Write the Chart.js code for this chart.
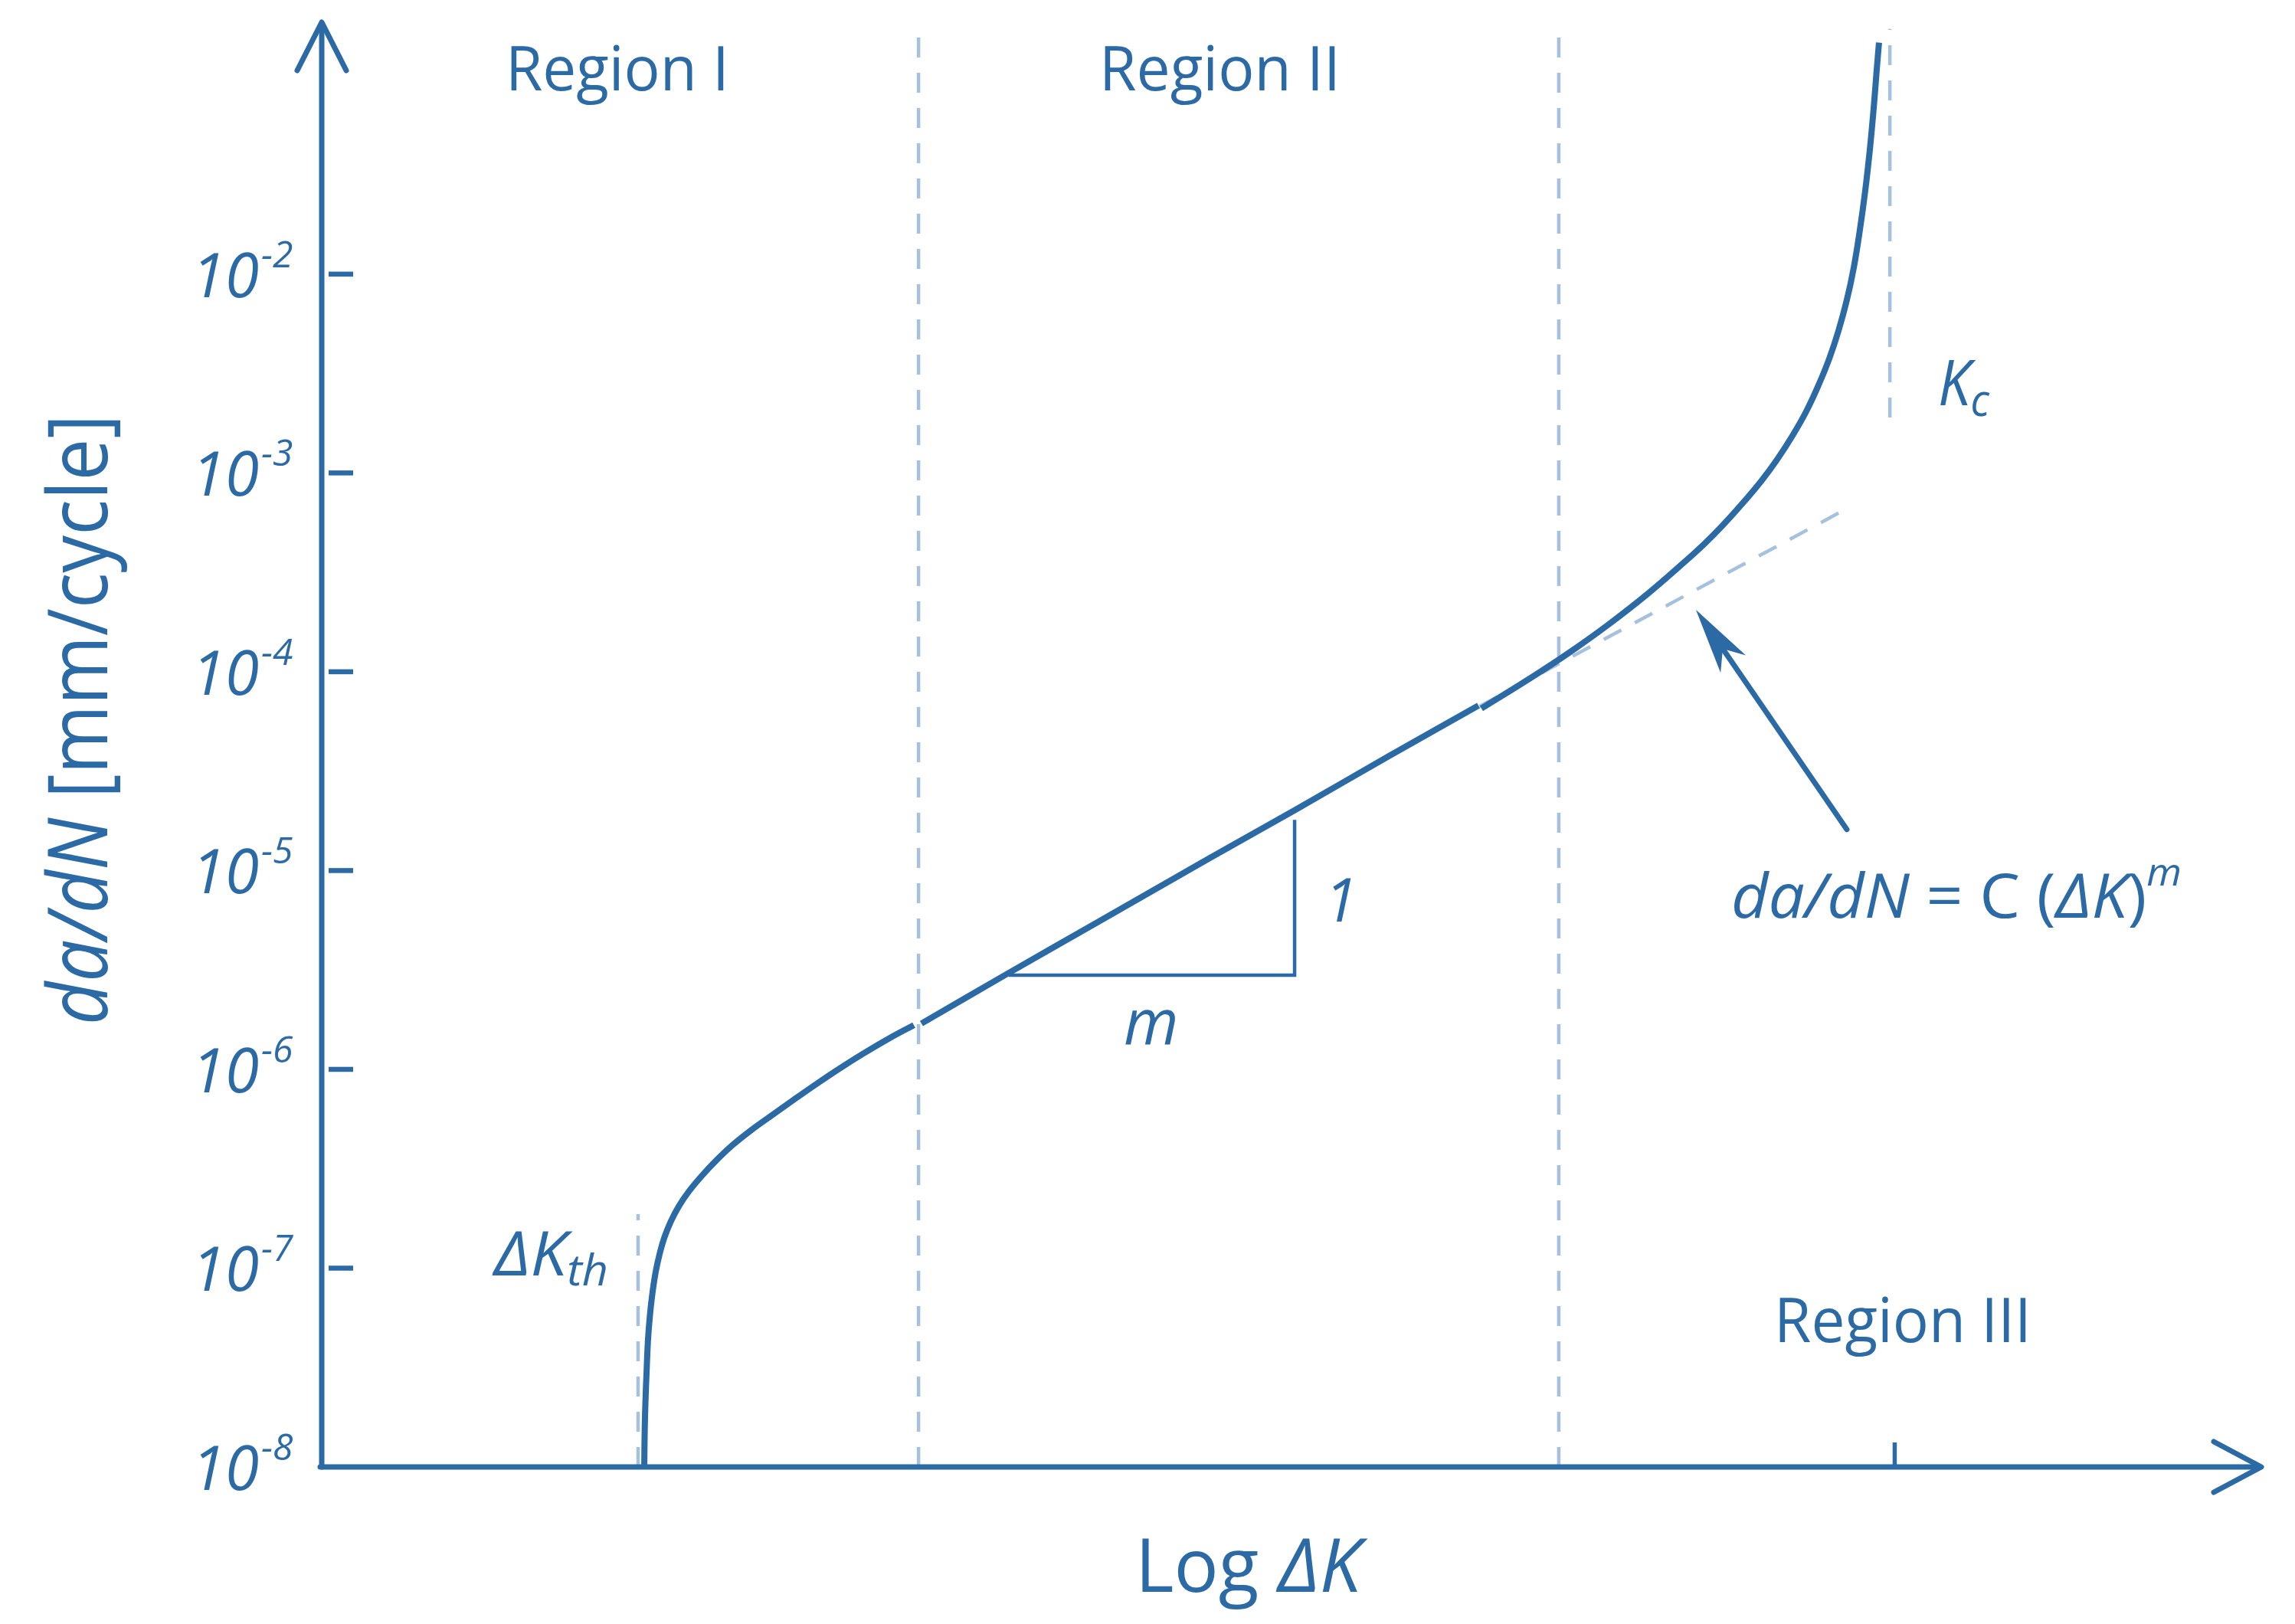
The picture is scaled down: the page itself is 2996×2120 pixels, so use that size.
<!DOCTYPE html>
<html>
<head>
<meta charset="utf-8">
<script src="https://cdn.jsdelivr.net/npm/chart.js@4.4.1/dist/chart.umd.min.js"></script>
<style>
  html, body { margin: 0; padding: 0; background: #ffffff; }
  #c { display: block; }
</style>
</head>
<body>
<canvas id="c" width="2996" height="2120" style="width:2996px;height:2120px"></canvas>
<script>
// ---------- data ----------
const xMin = 0, xMax = 100;            // Log ΔK, arbitrary units
const yMin = 1e-8, yMax = 0.185;       // da/dN [mm/cycle]

const regionIX  = [16.63, 16.65, 16.69, 16.75, 16.82, 16.91, 17.04, 17.22, 17.44, 17.67, 17.99, 18.40,
                   18.94, 19.59, 20.34, 21.17, 22.16, 23.26, 24.37, 25.51, 26.70, 27.92, 29.19, 30.53];
const regionIY  = [1.00e-8, 1.49e-8, 2.13e-8, 3.03e-8, 4.32e-8, 5.64e-8, 7.36e-8, 9.61e-8, 1.20e-7, 1.43e-7, 1.71e-7, 2.04e-7,
                   2.44e-7, 2.91e-7, 3.48e-7, 4.15e-7, 4.96e-7, 5.92e-7, 7.07e-7, 8.45e-7, 1.01e-6, 1.20e-6, 1.42e-6, 1.67e-6];

const regionIIX = [30.92, 35.23, 40.01, 45.81, 50.16, 55.09, 59.64];
const regionIIY = [1.70e-6, 2.98e-6, 5.50e-6, 1.16e-5, 2.01e-5, 3.80e-5, 6.76e-5];

const regionIIIX = [59.79, 62.40, 64.38, 66.35, 68.33, 70.30, 71.29, 72.27, 73.26, 74.25, 75.04, 75.83,
                    76.54, 77.17, 77.73, 78.20, 78.63, 78.99, 79.30, 79.58, 79.82, 80.02, 80.17, 80.29];
const regionIIIY = [6.53e-5, 9.40e-5, 1.26e-4, 1.73e-4, 2.45e-4, 3.59e-4, 4.40e-4, 5.50e-4, 7.04e-4, 9.19e-4, 1.17e-3, 1.54e-3,
                    2.04e-3, 2.76e-3, 3.77e-3, 5.19e-3, 7.40e-3, 1.08e-2, 1.66e-2, 2.63e-2, 4.25e-2, 6.92e-2, 0.106, 0.146];

const parisX = [59.70, 78.71];
const parisY = [6.70e-5, 6.68e-4];

const triangleX = [35.43, 50.16, 50.16];
const triangleY = [2.98e-6, 2.98e-6, 1.80e-5];

const boundaryX      = [16.31, 30.77, 63.78, 80.85];   // ΔKth, I|II, II|III, Kc
const boundaryBottom = [1e-8, 1e-8, 1e-8, 1.90e-3];
const boundaryTop    = [1.87e-7, 0.18, 0.18, 0.171];

const arrowTail = [78.63, 1.61e-5];
const arrowTip  = [70.85, 2.05e-4];

const yTicks   = [1e-8, 1e-7, 1e-6, 1e-5, 1e-4, 1e-3, 1e-2];
const yTickExp = ['-8', '-7', '-6', '-5', '-4', '-3', '-2'];
const xTicks   = [81.1];

// ---------- style ----------
const BLUE = '#2c6aa6';
const LIGHT = '#a6c1de';
const FONT = '"Open Sans", "Noto Sans", "DejaVu Sans", sans-serif';

const pts = (xs, ys) => xs.map((x, i) => ({ x: x, y: ys[i] }));

const curveStyle = { borderColor: BLUE, borderWidth: 8, pointRadius: 0, tension: 0.4, borderCapStyle: 'butt', borderJoinStyle: 'round' };
const datasets = [
  Object.assign({ label: 'Region I', data: pts(regionIX, regionIY) }, curveStyle),
  Object.assign({ label: 'Region II', data: pts(regionIIX, regionIIY) }, curveStyle),
  Object.assign({ label: 'Region III', data: pts(regionIIIX, regionIIIY) }, curveStyle),
  { label: 'Triangle', data: pts(triangleX, triangleY), borderColor: BLUE, borderWidth: 4.5, pointRadius: 0, tension: 0 },
  { label: 'Paris', data: pts(parisX, parisY), borderColor: LIGHT, borderWidth: 4.5, borderDash: [26, 20], pointRadius: 0, tension: 0 }
];
boundaryX.forEach((bx, i) => {
  datasets.push({ label: 'b' + i, data: [{ x: bx, y: boundaryBottom[i] }, { x: bx, y: boundaryTop[i] }],
    borderColor: LIGHT, borderWidth: 4.5, borderDash: [26, 20], pointRadius: 0, tension: 0 });
});

function fontOf(r) { return (r.italic ? 'italic ' : '') + r.size + 'px ' + FONT; }

function drawRuns(ctx, x, y, runs, opts) {
  opts = opts || {};
  ctx.save();
  ctx.textBaseline = 'alphabetic';
  ctx.textAlign = 'left';
  ctx.fillStyle = BLUE;
  const widths = runs.map(r => { ctx.font = fontOf(r); return ctx.measureText(r.t).width; });
  const total = widths.reduce((a, b) => a + b, 0);
  const sx = opts.width ? opts.width / total : 1;
  ctx.translate(x, y);
  if (opts.rotate) ctx.rotate(opts.rotate);
  ctx.scale(sx, 1);
  let cx = 0;
  runs.forEach((r, i) => { ctx.font = fontOf(r); ctx.fillText(r.t, cx, r.dy || 0); cx += widths[i]; });
  ctx.restore();
}

const decor = {
  id: 'decor',
  afterDatasetsDraw(chart) {
    const ctx = chart.ctx;
    const xs = chart.scales.x, ys = chart.scales.y;
    const X = v => xs.getPixelForValue(v), Y = v => ys.getPixelForValue(v);
    const ox = X(xMin), oy = Y(yMin), top = Y(yMax), right = X(xMax);
    ctx.save();
    ctx.strokeStyle = BLUE; ctx.fillStyle = BLUE;
    ctx.lineCap = 'round'; ctx.lineJoin = 'round';
    // axes
    ctx.lineWidth = 7;
    ctx.beginPath(); ctx.moveTo(ox, oy); ctx.lineTo(ox, top + 2); ctx.stroke();
    ctx.beginPath(); ctx.moveTo(ox - 32, top + 63); ctx.lineTo(ox, top); ctx.lineTo(ox + 32, top + 63); ctx.stroke();
    ctx.beginPath(); ctx.moveTo(ox - 2, oy); ctx.lineTo(right - 2, oy); ctx.stroke();
    ctx.beginPath(); ctx.moveTo(right - 62, oy - 33); ctx.lineTo(right, oy); ctx.lineTo(right - 62, oy + 33); ctx.stroke();
    // y ticks
    ctx.lineCap = 'butt';
    ctx.lineWidth = 6.5;
    yTicks.forEach((v, i) => {
      if (i === 0) return;
      const py = Y(v);
      ctx.beginPath(); ctx.moveTo(ox + 9, py); ctx.lineTo(ox + 41, py); ctx.stroke();
    });
    // x ticks
    ctx.lineWidth = 5.5;
    xTicks.forEach(v => { const px = X(v); ctx.beginPath(); ctx.moveTo(px, oy); ctx.lineTo(px, oy - 32); ctx.stroke(); });
    // y tick labels
    yTicks.forEach((v, i) => {
      const py = Y(v);
      ctx.font = fontOf({ italic: true, size: 80 });
      const w = ctx.measureText('10').width;
      drawRuns(ctx, 338 - w, py + 30, [{ t: '10', italic: true, size: 80 }]);
      drawRuns(ctx, 341, py - 9, [{ t: yTickExp[i], italic: true, size: 48 }]);
    });
    // annotation arrow
    const tx = X(arrowTail[0]), ty = Y(arrowTail[1]);
    const hx = X(arrowTip[0]), hy = Y(arrowTip[1]);
    const dx = hx - tx, dy = hy - ty, L = Math.hypot(dx, dy);
    const ux = dx / L, uy = dy / L, nx = -uy, ny = ux;
    const inner = [hx - ux * 62, hy - uy * 62];
    ctx.lineWidth = 7; ctx.lineCap = 'round';
    ctx.beginPath(); ctx.moveTo(tx, ty); ctx.lineTo(inner[0], inner[1]); ctx.stroke();
    ctx.beginPath();
    ctx.moveTo(hx, hy);
    ctx.lineTo(hx - ux * 86 + nx * 20, hy - uy * 86 + ny * 20);
    ctx.lineTo(inner[0], inner[1]);
    ctx.lineTo(hx - ux * 86 - nx * 20, hy - uy * 86 - ny * 20);
    ctx.closePath(); ctx.fill();
    ctx.restore();

    // texts
    drawRuns(ctx, 660, 118, [{ t: 'Region I', size: 80 }], { width: 292 });
    drawRuns(ctx, 1435, 118, [{ t: 'Region II', size: 80 }], { width: 315 });
    drawRuns(ctx, 2316, 1752, [{ t: 'Region III', size: 80 }], { width: 336 });
    drawRuns(ctx, 1482, 2078, [{ t: 'Log ', size: 97 }, { t: 'ΔK', italic: true, size: 97 }], { width: 295 });
    drawRuns(ctx, 140, 1338, [{ t: 'da/dN', italic: true, size: 108 }, { t: ' [mm/cycle]', size: 108 }], { width: 797, rotate: -Math.PI / 2 });
    drawRuns(ctx, 645, 1665, [{ t: 'ΔK', italic: true, size: 80 }, { t: 'th', italic: true, size: 56, dy: 13 }], { width: 149 });
    drawRuns(ctx, 2530, 529, [{ t: 'K', italic: true, size: 82 }, { t: 'c', italic: true, size: 58, dy: 14 }], { width: 67 });
    drawRuns(ctx, 1729, 1203, [{ t: '1', italic: true, size: 78 }]);
    drawRuns(ctx, 1467, 1363, [{ t: 'm', italic: true, size: 82 }]);
    drawRuns(ctx, 2260, 1198, [
      { t: 'da/dN', italic: true, size: 80 },
      { t: ' = C (', size: 80 },
      { t: 'ΔK', italic: true, size: 80 },
      { t: ')', size: 80 },
      { t: 'm', italic: true, size: 50, dy: -42 }
    ], { width: 588 });
  }
};

new Chart(document.getElementById('c'), {
  type: 'line',
  data: { datasets: datasets },
  options: {
    responsive: false,
    animation: false,
    devicePixelRatio: 1,
    layout: { padding: { left: 420, right: 44, top: 29, bottom: 205 } },
    plugins: { legend: { display: false }, tooltip: { enabled: false }, title: { display: false } },
    scales: {
      x: { type: 'linear', min: xMin, max: xMax, bounds: 'data', display: false },
      y: { type: 'logarithmic', min: yMin, max: yMax, bounds: 'data', display: false }
    }
  },
  plugins: [decor]
});
</script>
</body>
</html>
